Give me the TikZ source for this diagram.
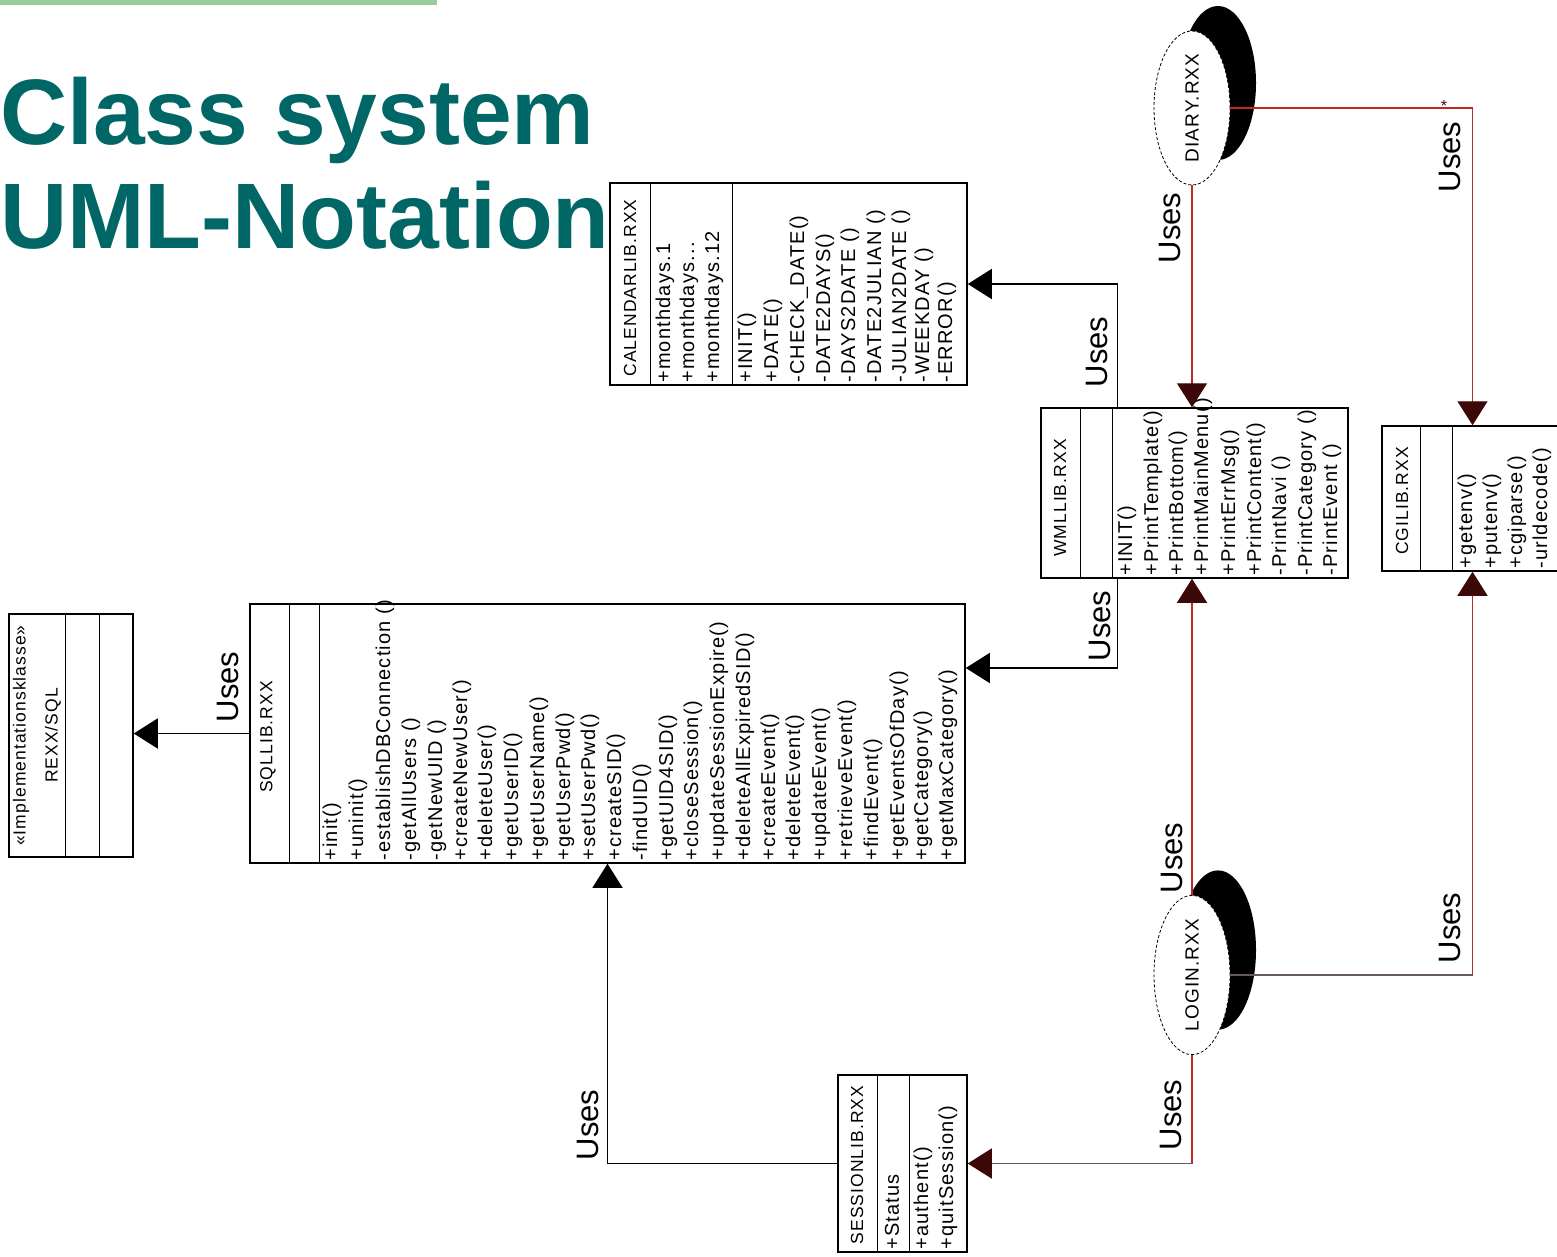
\documentclass[tikz,border=0pt]{standalone}
\usepackage{fontspec}
\setmainfont{Liberation Sans}
\newfontfamily\umlfont[LetterSpace=6]{Liberation Sans}
\usetikzlibrary{arrows.meta,shapes.geometric,shadows}
\definecolor{titleteal}{RGB}{0,102,102}
\definecolor{titlebar}{RGB}{153,204,153}
\definecolor{usered}{RGB}{190,40,40}
\definecolor{usegray}{RGB}{105,90,90}
\definecolor{tipdark}{RGB}{60,8,8}

\begin{document}
\begin{tikzpicture}[x=1pt,y=-1pt]
	\tikzstyle{classbox}=[draw,shape=rectangle,line width=1.5pt,inner sep=0pt]
	\tikzstyle{divider}=[line width=1.5pt]
	\tikzstyle{member}=[rotate=90,anchor=west,inner sep=0pt,font=\umlfont\fontsize{20}{20}\selectfont]
	\tikzstyle{classname}=[rotate=90,anchor=center,inner sep=0pt,font=\umlfont\fontsize{17.5}{17.5}\selectfont]
	\tikzstyle{script}=[draw,densely dashed,line width=.8pt,shape=ellipse,fill=white,minimum width=76pt,inner sep=0pt,font=\umlfont\fontsize{19}{19}\selectfont,drop shadow={shadow xshift=26pt,shadow yshift=25pt,opacity=1,fill=black}]
	\tikzstyle{uses}=[line width=1.4pt,-{Triangle[length=24pt,width=30pt]}]
	\tikzstyle{usesred}=[line width=1.4pt,draw=usered,-{Triangle[length=24pt,width=30pt,color=tipdark]}]
	\tikzstyle{useslabel}=[rotate=90,inner sep=0pt,font=\fontsize{31}{31}\selectfont]
	\useasboundingbox (0,0) rectangle (1557,1257);

	% title
	\fill[titlebar] (0,0) rectangle (437,5);
	\path (0,145) node[anchor=base west,inner sep=0pt,text=titleteal,font=\bfseries\fontsize{93}{93}\selectfont] (title1) {Class system};
	\path (0,249) node[anchor=base west,inner sep=0pt,text=titleteal,font=\bfseries\fontsize{93}{93}\selectfont] (title2) {UML-Notation};

	% CALENDARLIB.RXX
	\path (788.5,284) node[classbox,minimum width=357pt,minimum height=202pt] (cal) {};
	\draw[divider] ([xshift=41pt]cal.north west) -- ([xshift=41pt]cal.south west);
	\draw[divider] ([xshift=123pt]cal.north west) -- ([xshift=123pt]cal.south west);
	\path (630,288) node[classname] {CALENDARLIB.RXX};
	\path (665,383) node[member] {+monthdays.1};
	\path (689,383) node[member] {+monthdays...};
	\path (714,383) node[member] {+monthdays.12};
	\path (747,383) node[member] {+INIT()};
	\path (773,383) node[member] {+DATE()};
	\path (799,383) node[member] {-CHECK\_DATE()};
	\path (825,383) node[member] {-DATE2DAYS()};
	\path (850,383) node[member] {-DAYS2DATE ()};
	\path (876,383) node[member] {-DATE2JULIAN ()};
	\path (901,383) node[member] {-JULIAN2DATE ()};
	\path (924,383) node[member] {-WEEKDAY ()};
	\path (947,383) node[member] {-ERROR()};

	% WMLLIB.RXX
	\path (1194.5,493) node[classbox,minimum width=307pt,minimum height=170pt] (wml) {};
	\draw[divider] ([xshift=40pt]wml.north west) -- ([xshift=40pt]wml.south west);
	\draw[divider] ([xshift=72pt]wml.north west) -- ([xshift=72pt]wml.south west);
	\path (1060,498) node[classname] {WMLLIB.RXX};
	\path (1127,576) node[member] {+INIT()};
	\path (1153,576) node[member] {+PrintTemplate()};
	\path (1178,576) node[member] {+PrintBottom()};
	\path (1203,576) node[member] {+PrintMainMenu()};
	\path (1230,576) node[member] {+PrintErrMsg()};
	\path (1256,576) node[member] {+PrintContent()};
	\path (1281,576) node[member] {-PrintNavi ()};
	\path (1307,576) node[member] {-PrintCategory ()};
	\path (1332,576) node[member] {-PrintEvent ()};

	% CGILIB.RXX
	\path (1472.5,498.5) node[classbox,minimum width=181pt,minimum height=145pt] (cgi) {};
	\draw[divider] ([xshift=39pt]cgi.north west) -- ([xshift=39pt]cgi.south west);
	\draw[divider] ([xshift=71pt]cgi.north west) -- ([xshift=71pt]cgi.south west);
	\path (1402,501) node[classname] {CGILIB.RXX};
	\path (1467,569) node[member] {+getenv()};
	\path (1492,569) node[member] {+putenv()};
	\path (1517,569) node[member] {+cgiparse()};
	\path (1542,569) node[member] {-urldecode()};

	% SQLLIB.RXX
	\path (607.5,733.5) node[classbox,minimum width=715pt,minimum height=259pt] (sql) {};
	\draw[divider] ([xshift=40pt]sql.north west) -- ([xshift=40pt]sql.south west);
	\draw[divider] ([xshift=70pt]sql.north west) -- ([xshift=70pt]sql.south west);
	\path (268,737) node[classname] {SQLLIB.RXX};
	\path (332,861) node[member] {+init()};
	\path (358,861) node[member] {+uninit()};
	\path (385,861) node[member] {-establishDBConnection ()};
	\path (411,861) node[member] {-getAllUsers ()};
	\path (437,861) node[member] {-getNewUID ()};
	\path (462,861) node[member] {+createNewUser()};
	\path (487,861) node[member] {+deleteUser()};
	\path (513,861) node[member] {+getUserID()};
	\path (539,861) node[member] {+getUserName()};
	\path (565,861) node[member] {+getUserPwd()};
	\path (590,861) node[member] {+setUserPwd()};
	\path (616,861) node[member] {+createSID()};
	\path (642,861) node[member] {-findUID()};
	\path (668,861) node[member] {+getUID4SID()};
	\path (693,861) node[member] {+closeSession()};
	\path (719,861) node[member] {+updateSessionExpire()};
	\path (745,861) node[member] {+deleteAllExpiredSID()};
	\path (770,861) node[member] {+createEvent()};
	\path (795,861) node[member] {+deleteEvent()};
	\path (821,861) node[member] {+updateEvent()};
	\path (847,861) node[member] {+retrieveEvent()};
	\path (873,861) node[member] {+findEvent()};
	\path (899,861) node[member] {+getEventsOfDay()};
	\path (923,861) node[member] {+getCategory()};
	\path (948,861) node[member] {+getMaxCategory()};

	% Implementationsklasse
	\path (71,735.5) node[classbox,minimum width=124pt,minimum height=243pt] (impl) {};
	\draw[divider] ([xshift=57pt]impl.north west) -- ([xshift=57pt]impl.south west);
	\draw[divider] ([xshift=91pt]impl.north west) -- ([xshift=91pt]impl.south west);
	\path (21,735.5) node[classname] {«Implementationsklasse»};
	\path (53,735.5) node[classname] {REXX/SQL};

	% SESSIONLIB.RXX
	\path (902.5,1163.5) node[classbox,minimum width=129pt,minimum height=177pt] (session) {};
	\draw[divider] ([xshift=40pt]session.north west) -- ([xshift=40pt]session.south west);
	\draw[divider] ([xshift=72pt]session.north west) -- ([xshift=72pt]session.south west);
	\path (857,1165) node[classname] {SESSIONLIB.RXX};
	\path (892,1250) node[member] {+Status};
	\path (923,1250) node[member] {+authent()};
	\path (948,1250) node[member] {+quitSession()};

	% scripts
	\path (1192,108) node[script,minimum height=154pt] (diary) {\rotatebox{90}{DIARY.RXX}};
	\path (1192,975) node[script,minimum height=150pt] (login) {\rotatebox{90}{LOGIN.RXX}};

	% uses
	\draw[usesred] (diary.south) -- (diary.south |- wml.north);
	\draw[usesred] (diary.east) -| (cgi.north);
	\draw[usesred] (login.north) -- (login.north |- wml.south);
	\coordinate (logincgi) at (cgi.south |- login.east);
	\draw[line width=1.4pt,draw=usegray] (login.east) -- (logincgi);
	\draw[usesred] (logincgi) -- (cgi.south);
	\coordinate (loginsession) at (login.south |- session.east);
	\draw[line width=1.4pt,draw=usered] (login.south) -- (loginsession);
	\draw[usesred,draw=usegray] (loginsession) -- (session.east);
	\draw[uses] ([xshift=77pt]wml.north west) |- (cal.east);
	\draw[uses] ([xshift=77pt]wml.south west) |- ([yshift=65.5pt]sql.east);
	\draw[uses] (session.west) -| (sql.south);
	\draw[uses] (sql.west) -- (sql.west -| impl.east);
	\path (1444,106) node[inner sep=0pt,text=tipdark,font=\fontsize{16}{16}\selectfont] {*};

	\path (1170,228) node[useslabel] {Uses};
	\path (1450,157) node[useslabel] {Uses};
	\path (1172,858) node[useslabel] {Uses};
	\path (1450,928) node[useslabel] {Uses};
	\path (1171,1115) node[useslabel] {Uses};
	\path (1097,352) node[useslabel] {Uses};
	\path (1100,626) node[useslabel] {Uses};
	\path (588,1125) node[useslabel] {Uses};
	\path (228,687) node[useslabel] {Uses};
\end{tikzpicture}
\end{document}
